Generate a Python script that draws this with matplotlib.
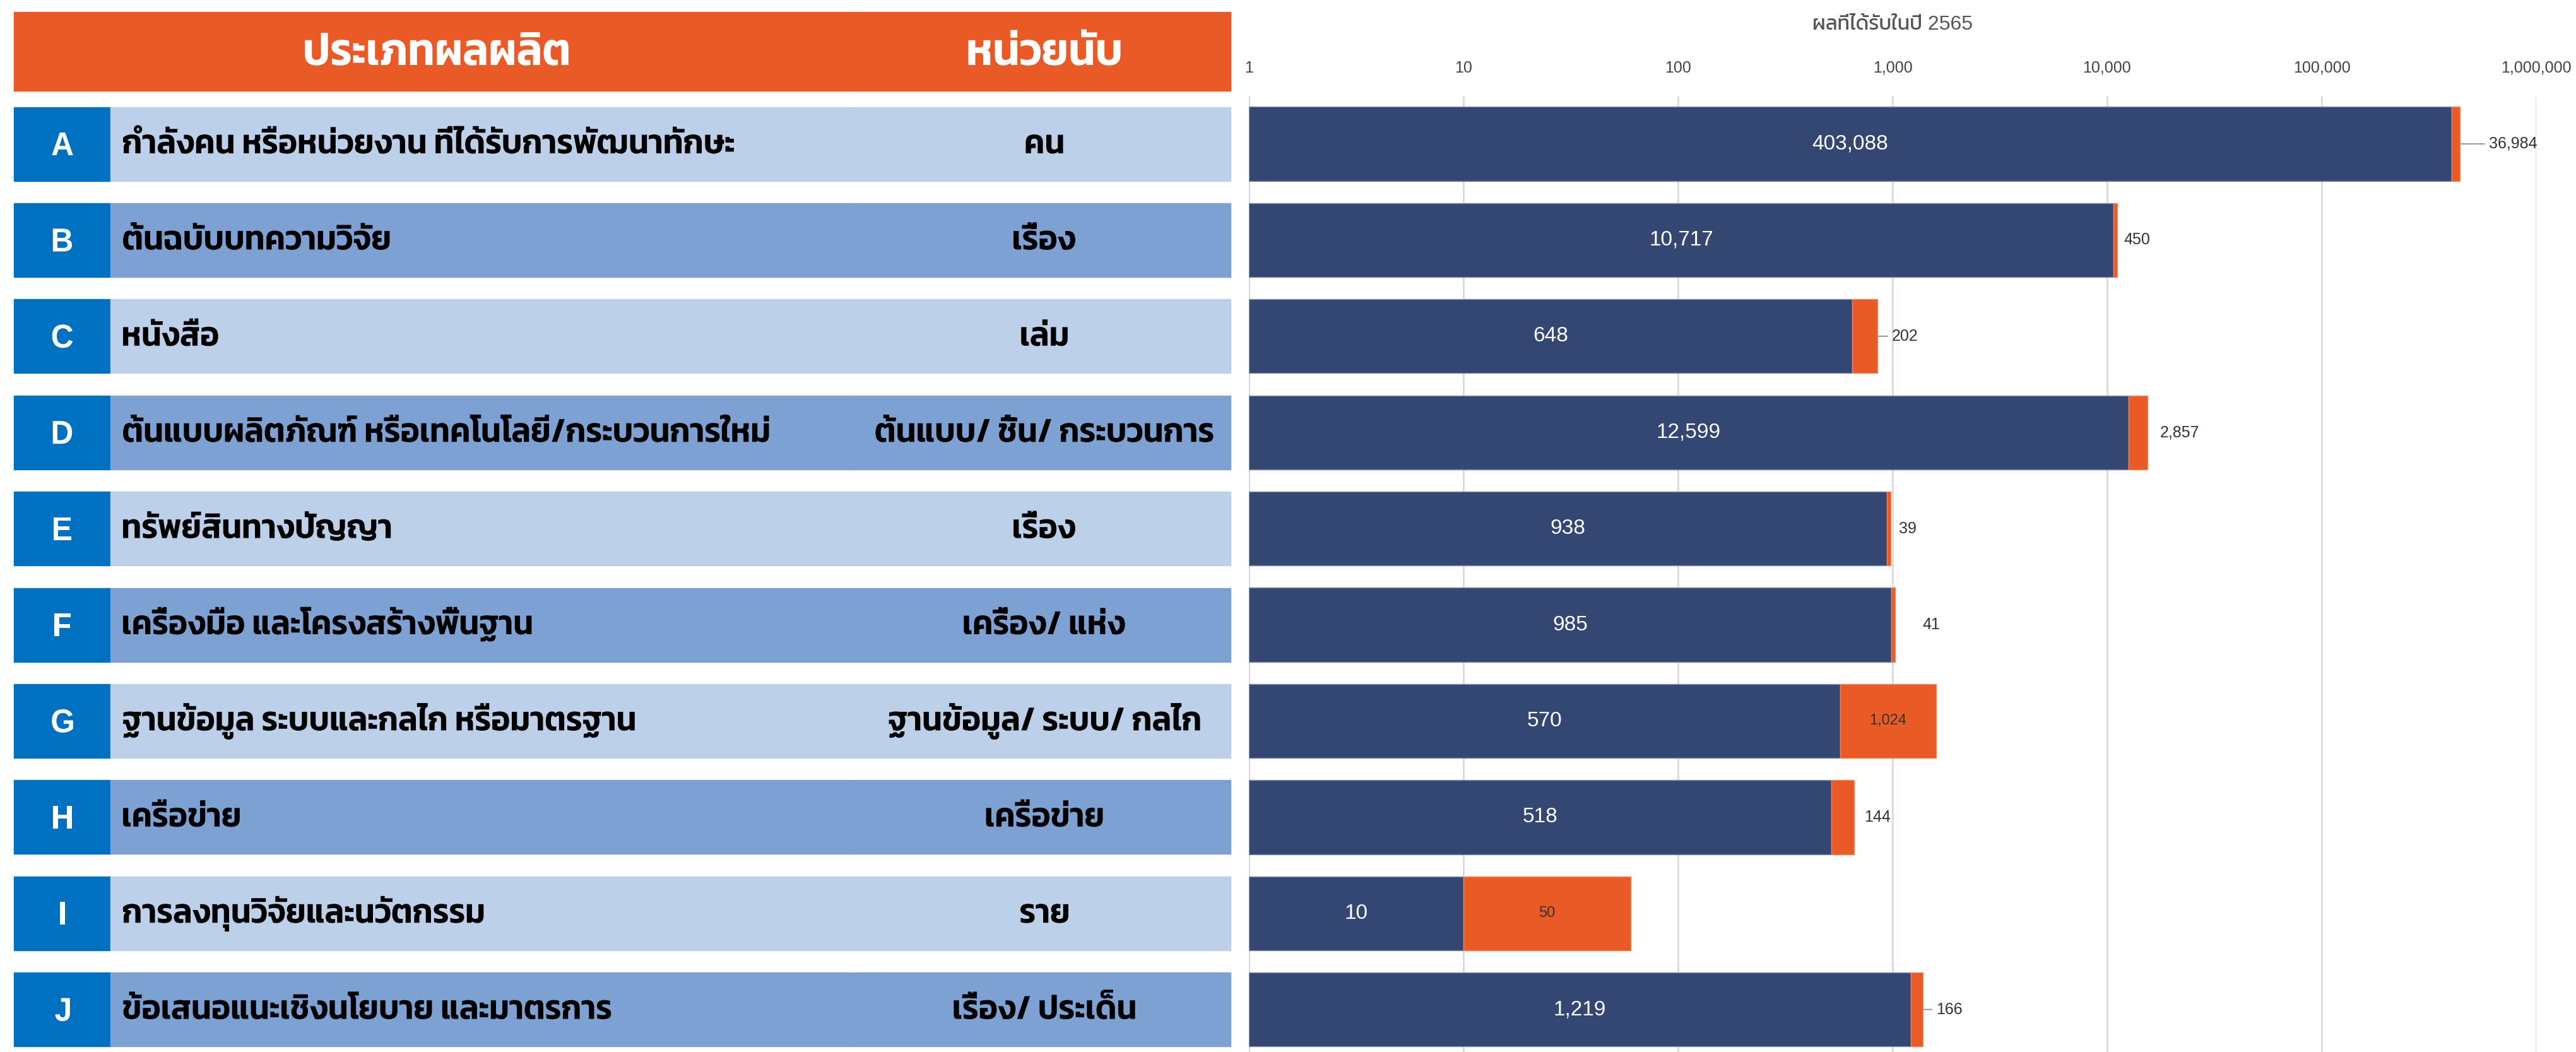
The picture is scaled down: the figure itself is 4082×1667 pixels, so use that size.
import matplotlib
matplotlib.use('Agg')
import matplotlib.pyplot as plt
from matplotlib.patches import Rectangle, PathPatch
from matplotlib.textpath import TextPath
from matplotlib.font_manager import FontProperties
from matplotlib.transforms import Affine2D
import numpy as np

letters = ['A', 'B', 'C', 'D', 'E', 'F', 'G', 'H', 'I', 'J']
products = [
    'กำลังคน หรือหน่วยงาน ที่ได้รับการพัฒนาทักษะ',
    'ต้นฉบับบทความวิจัย',
    'หนังสือ',
    'ต้นแบบผลิตภัณฑ์ หรือเทคโนโลยี/กระบวนการใหม่',
    'ทรัพย์สินทางปัญญา',
    'เครื่องมือ และโครงสร้างพื้นฐาน',
    'ฐานข้อมูล ระบบและกลไก หรือมาตรฐาน',
    'เครือข่าย',
    'การลงทุนวิจัยและนวัตกรรม',
    'ข้อเสนอแนะเชิงนโยบาย และมาตรการ',
]
units = ['คน', 'เรื่อง', 'เล่ม', 'ต้นแบบ/ ชิ้น/ กระบวนการ', 'เรื่อง',
         'เครื่อง/ แห่ง', 'ฐานข้อมูล/ ระบบ/ กลไก', 'เครือข่าย', 'ราย',
         'เรื่อง/ ประเด็น']
main_vals = [403088, 10717, 648, 12599, 938, 985, 570, 518, 10, 1219]
extra_vals = [36984, 450, 202, 2857, 39, 41, 1024, 144, 50, 166]
header_left = 'ประเภทผลผลิต'
header_unit = 'หน่วยนับ'
chart_title = 'ผลที่ได้รับในปี 2565'
tick_vals = [1, 10, 100, 1000, 10000, 100000, 1000000]

plt.rcParams['font.family'] = ['Liberation Sans', 'Kanit', 'DejaVu Sans']

W, H = 4082, 1667
fig = plt.figure(figsize=(W / 100, H / 100), dpi=100)

orange = '#EA5A27'
blue_letter = '#0070C0'
light = '#BDD0EA'
dark = '#7EA1D4'
navy = '#344672'

thai_fp = FontProperties(family='Kanit', weight=600)
latin_fp = FontProperties(family='Liberation Sans', weight='bold')
thai_ref = TextPath((0, 0), 'น', size=100, prop=thai_fp).get_extents().height
latin_ref = TextPath((0, 0), 'H', size=100, prop=latin_fp).get_extents().height

tab = fig.add_axes([0, 0, 1, 1])
tab.set_xlim(0, W)
tab.set_ylim(H, 0)
tab.axis('off')


def squeezed(x, yc, s, body, sx, color, ha='left', fp=thai_fp, ref=thai_ref):
    # condensed text drawn as a path, body height given in pixels
    size = 100 * body / ref
    tp = TextPath((0, 0), s, size=size, prop=fp)
    ext = tp.get_extents()
    if ha == 'center':
        x = x - (ext.x0 + ext.x1) / 2 * sx
    else:
        x = x - ext.x0 * sx
    tr = Affine2D().scale(sx, -1).translate(x, yc + body / 2) + tab.transData
    tab.add_patch(PathPatch(tp, transform=tr, facecolor=color, edgecolor='none', lw=0))


# squeeze factor, roughly matching the reference's condensed face
size_a = 100 * 30 / thai_ref
wa = TextPath((0, 0), products[0], size=size_a, prop=thai_fp).get_extents().width
sx = 0.95 * 1019 / wa


def row_px(i):
    return 228 + 152.4 * i


# header
tab.add_patch(Rectangle((22, 19), 1327, 125, color=orange))
tab.add_patch(Rectangle((1350, 19), 600, 125, color=orange))
squeezed(692, 83, header_left, 40, sx, 'white', ha='center')
squeezed(1655, 83, header_unit, 40, sx, 'white', ha='center')

rh = 117
for i in range(len(letters)):
    yc = row_px(i)
    top = yc - rh / 2
    fill = light if i % 2 == 0 else dark
    tab.add_patch(Rectangle((22, top), 153, rh, color=blue_letter))
    tab.add_patch(Rectangle((175, top), 1174, rh, color=fill))
    tab.add_patch(Rectangle((1350, top), 600, rh, color=fill))
    squeezed(99, yc, letters[i], 36, 0.95, 'white', ha='center', fp=latin_fp, ref=latin_ref)
    squeezed(195, yc, products[i], 30, sx, 'black')
    squeezed(1655, yc, units[i], 30, sx, 'black', ha='center')

# bar chart
x0, x1 = 1979, 4019
ax = fig.add_axes([x0 / W, 0, (x1 - x0) / W, (H - 153) / H])
y = np.arange(len(letters))
main = np.array(main_vals, dtype=float)
extra = np.array(extra_vals, dtype=float)
ax.barh(y, main - 1, left=1, height=0.77, color=navy, edgecolor='#7D8AAE',
        linewidth=1, zorder=3)
ax.barh(y, extra, left=main, height=0.77, color=orange, edgecolor='#F0845A',
        linewidth=1, zorder=3)
ax.set_xscale('log')
ax.set_xlim(1, 1e6)
ax.set_ylim(9.442, -0.492)
ax.set_xticks(tick_vals)
ax.set_xticklabels(['{:,}'.format(v) for v in tick_vals])
ax.xaxis.set_minor_locator(matplotlib.ticker.NullLocator())
ax.xaxis.tick_top()
ax.tick_params(axis='x', length=0, pad=24, labelsize=18, labelcolor='#444444')
ax.set_yticks([])
for s in ax.spines.values():
    s.set_visible(False)
ax.grid(axis='x', color='#D9D9D9', linewidth=2, zorder=0)
fig.text((x0 + x1) / 2 / W, 1 - 39 / H, chart_title, ha='center', va='center',
         fontsize=23, color='#555555')

inside = [6, 8]
leader = [0, 2, 9]
offsets = [46, 10, 23, 19, 13, 44, 0, 16, 0, 21]
for i in range(len(letters)):
    ax.text(np.sqrt(main[i]), i, '{:,}'.format(main_vals[i]), color='white',
            fontsize=24, ha='center', va='center', zorder=5)
    if i in inside:
        ax.text(np.sqrt(main[i] * (main[i] + extra[i])), i, '{:,}'.format(extra_vals[i]),
                color='#333333', fontsize=17, ha='center', va='center', zorder=5)
    else:
        end = main[i] + extra[i]
        off = offsets[i] * 0.72
        arrow = None
        if i in leader:
            arrow = dict(arrowstyle='-', color='#999999', lw=1.5, shrinkA=3, shrinkB=0)
        ax.annotate('{:,}'.format(extra_vals[i]), xy=(end, i), xytext=(off, 0),
                    textcoords='offset points', ha='left', va='center',
                    fontsize=18, color='#333333', arrowprops=arrow)

fig.savefig('out.png', dpi=100)
